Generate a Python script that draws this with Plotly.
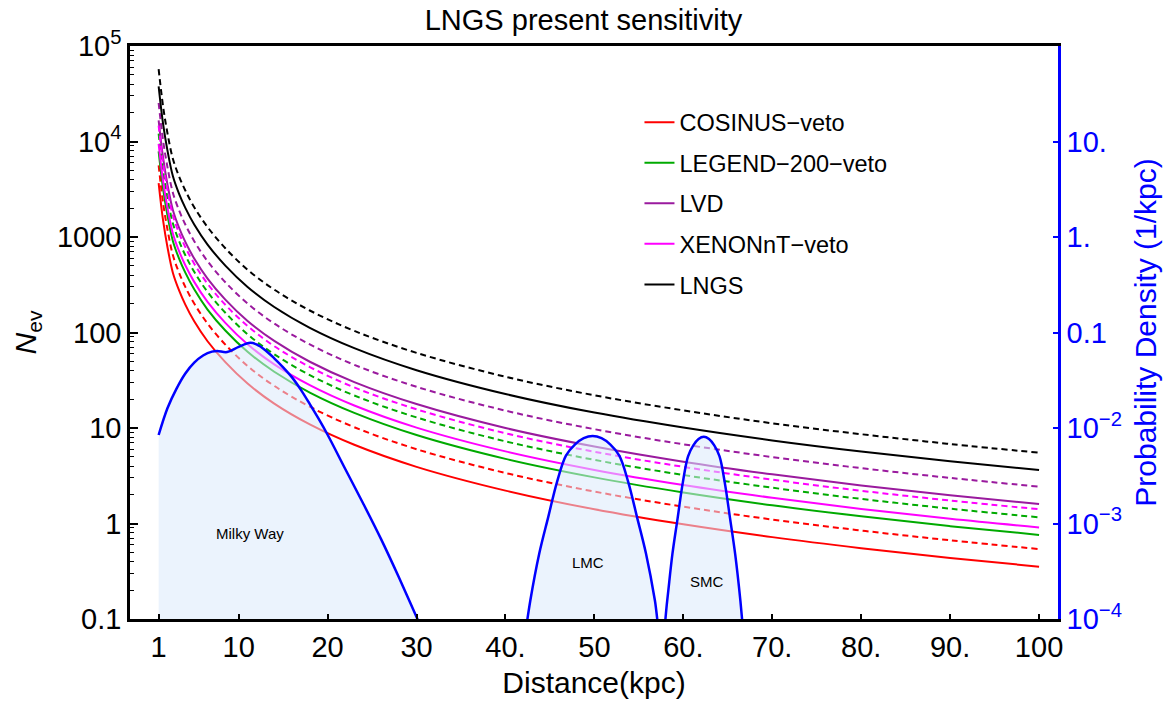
import plotly.graph_objects as go

# ---------------- data ----------------
distance = [1, 1.5, 2, 2.6, 3.3, 4, 5, 6.5, 8.5, 11, 14, 18, 23, 30, 40, 50, 60, 70, 80, 90, 100]

cosinus_veto = [3670, 1490, 777, 423, 276, 196, 131, 81.0, 48.9, 29.2, 18.0, 10.9, 6.67, 3.92, 2.21, 1.41, 0.981, 0.720, 0.552, 0.436, 0.353]
cosinus_dashed = [5620, 2280, 1190, 647, 422, 300, 201, 124, 74.7, 44.6, 27.6, 16.7, 10.2, 6.00, 3.38, 2.16, 1.50, 1.10, 0.844, 0.667, 0.540]
legend200_veto = [7900, 3210, 1670, 910, 594, 423, 283, 174, 105, 62.8, 38.8, 23.5, 14.4, 8.44, 4.75, 3.04, 2.11, 1.55, 1.19, 0.938, 0.760]
legend200_dashed = [12100, 4900, 2550, 1390, 906, 645, 432, 266, 161, 95.9, 59.2, 35.8, 21.9, 12.9, 7.25, 4.64, 3.22, 2.37, 1.81, 1.43, 1.16]
lvd = [16600, 6760, 3520, 1920, 1250, 890, 595, 367, 221, 132, 81.6, 49.4, 30.2, 17.8, 10.0, 6.40, 4.44, 3.27, 2.50, 1.98, 1.60]
lvd_dashed = [25300, 10300, 5350, 2910, 1900, 1350, 904, 558, 336, 201, 124, 75.0, 45.9, 27.0, 15.2, 9.72, 6.75, 4.96, 3.80, 3.00, 2.43]
xenon_veto = [9460, 3840, 2000, 1090, 711, 506, 339, 209, 126, 75.2, 46.4, 28.1, 17.2, 10.1, 5.69, 3.64, 2.53, 1.86, 1.42, 1.12, 0.910]
xenon_dashed = [14700, 5950, 3100, 1690, 1100, 784, 525, 324, 195, 117, 71.9, 43.5, 26.6, 15.7, 8.81, 5.64, 3.92, 2.88, 2.20, 1.74, 1.41]
lngs = [37800, 15300, 7990, 4350, 2830, 2020, 1350, 833, 502, 300, 185, 112, 68.6, 40.3, 22.7, 14.5, 10.1, 7.41, 5.67, 4.48, 3.63]
lngs_dashed = [57300, 23300, 12100, 6600, 4300, 3070, 2050, 1270, 763, 455, 281, 170, 104, 61.2, 34.4, 22.0, 15.3, 11.2, 8.61, 6.80, 5.51]

series_names = ["COSINUS\u2212veto", "LEGEND\u2212200\u2212veto", "LVD", "XENONnT\u2212veto", "LNGS"]

# supernova distance probability density (1/kpc): Milky Way, LMC, SMC
pdf_distance = [1, 2, 3, 4, 5, 6, 7, 7.6, 8.7, 10, 11.3, 12, 13, 14, 15, 16, 17, 18, 19, 20, 22, 24, 26, 28, 30, 32, 34,
                37, 39.5, 40.8, 41.8,
                42.8, 43.8, 44.8, 45.8, 46.8, 47.8, 48.8, 49.8, 50.8, 51.8, 52.8, 53.8, 54.8, 55.8, 56.8,
                57.55,
                58.18, 58.77, 59.36, 59.94, 60.53, 61.12, 61.71, 62.3, 62.89, 63.48, 64.07, 64.66, 65.25, 65.83, 66.42,
                67.2, 68.0]
pdf_density = [0.00845, 0.0162, 0.0257, 0.0372, 0.0484, 0.0575, 0.0631, 0.0640, 0.0624, 0.0708, 0.0780, 0.0750, 0.0653,
               0.0537, 0.0432, 0.0339, 0.0251, 0.0178, 0.01245, 0.0085, 0.0037, 0.00162, 0.00069, 0.000275, 0.000105,
               0.00004, 0.000014,
               0.000002, 0.000002, 0.000008, 0.000037,
               0.000157, 0.000485, 0.00116, 0.00273, 0.00514, 0.0067, 0.00782, 0.00824, 0.00782, 0.0067, 0.00514,
               0.00273, 0.00116, 0.000485, 0.000157,
               0.00005,
               0.000154, 0.000477, 0.00114, 0.00268, 0.00505, 0.00658, 0.00768, 0.0081, 0.00768, 0.00658, 0.00505,
               0.00268, 0.00114, 0.000477, 0.000154,
               0.000025, 0.000005]

x_tick_vals = [1, 10, 20, 30, 40, 50, 60, 70, 80, 90, 100]
x_tick_text = ["1", "10", "20", "30", "40.", "50", "60.", "70.", "80.", "90.", "100"]
y_tick_vals = [0.1, 1, 10, 100, 1000, 1e4, 1e5]
y_tick_text = ["0.1", "1", "10", "100", "1000", "10<sup>4</sup>", "10<sup>5</sup>"]
y2_tick_vals = [1e-4, 1e-3, 1e-2, 0.1, 1, 10]
y2_tick_text = ["10<sup>\u22124</sup>", "10<sup>\u22123</sup>", "10<sup>\u22122</sup>", "0.1", "1.", "10."]

# ---------------- styling ----------------
FONT = "Liberation Sans, Arial, Helvetica, sans-serif"
colors = ["#FF0000", "#00AA00", "#9A1A9E", "#FF00FF", "#000000"]
solid_sets = [cosinus_veto, legend200_veto, lvd, xenon_veto, lngs]
dashed_sets = [cosinus_dashed, legend200_dashed, lvd_dashed, xenon_dashed, lngs_dashed]

fig = go.Figure()
for name, s, d, c in zip(series_names, solid_sets, dashed_sets, colors):
    fig.add_trace(go.Scatter(x=distance, y=d, mode="lines", showlegend=False, hoverinfo="skip",
                             line=dict(color=c, width=2, dash="6px,4px", shape="spline")))
    fig.add_trace(go.Scatter(x=distance, y=s, mode="lines", name=name, legendgroup=name,
                             line=dict(color=c, width=2, shape="spline")))

fig.add_trace(go.Scatter(x=pdf_distance, y=pdf_density, yaxis="y2", mode="lines", showlegend=False,
                         fill="tozeroy", fillcolor="rgba(218,234,252,0.55)",
                         line=dict(color="#0000FF", width=2.5, shape="spline", smoothing=1.0)))

minor_vals = [m * 10 ** e for e in range(-1, 5) for m in range(2, 10)]

fig.update_layout(
    width=1167, height=701,
    margin=dict(l=130, r=109, t=46, b=82, autoexpand=False),
    paper_bgcolor="white", plot_bgcolor="white",
    font=dict(family=FONT, color="black", size=29),
    title=dict(text="LNGS present sensitivity", x=0.5, xref="container", xanchor="center",
               y=1 - 20 / 701, yref="container", yanchor="middle", font=dict(size=29)),
    xaxis=dict(range=[-2.22, 102.13], tickmode="array", tickvals=x_tick_vals, ticktext=x_tick_text,
               ticks="inside", ticklen=5, tickwidth=1.5, tickcolor="black", automargin=False,
               showline=True, linecolor="black", linewidth=2.5, mirror=True,
               showgrid=False, zeroline=False, tickfont=dict(size=29),
               title=dict(text="Distance(kpc)", font=dict(size=30), standoff=11)),
    yaxis=dict(type="log", range=[-1, 5], tickmode="array", tickvals=y_tick_vals, ticktext=y_tick_text,
               ticks="inside", ticklen=8, tickwidth=1.5, tickcolor="black", automargin=False,
               minor=dict(tickmode="array", tickvals=minor_vals, ticks="inside", ticklen=4, tickwidth=1, tickcolor="black"),
               showline=True, linecolor="black", linewidth=2.5, showgrid=False, zeroline=False,
               tickfont=dict(size=29),
               title=dict(text="<i>N</i><sub>ev</sub>", font=dict(size=30), standoff=12)),
    yaxis2=dict(type="log", range=[-4, 2], overlaying="y", side="right", anchor="x", automargin=False,
                tickmode="array", tickvals=y2_tick_vals, ticktext=y2_tick_text,
                ticks="inside", ticklen=5, tickwidth=1.5, tickcolor="#0000FF",
                showline=True, linecolor="#0000FF", linewidth=2.5, showgrid=False, zeroline=False,
                tickfont=dict(size=29, color="#0000FF"),
                title=dict(text="Probability Density (1/kpc)", font=dict(size=30, color="#0000FF"), standoff=15)),
    legend=dict(x=0.549, y=0.905, xanchor="left", yanchor="top", bgcolor="rgba(0,0,0,0)",
                font=dict(size=23.5), traceorder="grouped", tracegroupgap=7),
    annotations=[
        dict(text="Milky Way", x=11.25, y=-0.10, xref="x", yref="y", showarrow=False, font=dict(size=15)),
        dict(text="LMC", x=49.3, y=-0.406, xref="x", yref="y", showarrow=False, font=dict(size=15)),
        dict(text="SMC", x=62.7, y=-0.609, xref="x", yref="y", showarrow=False, font=dict(size=15)),
    ],
)

fig.write_html("out.html")
